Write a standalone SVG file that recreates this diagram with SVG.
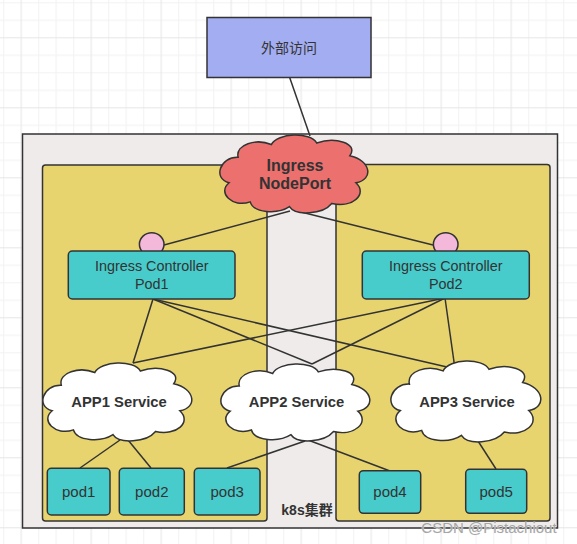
<svg xmlns="http://www.w3.org/2000/svg" xmlns:xlink="http://www.w3.org/1999/xlink" width="577" height="544" viewBox="0 0 577 544">
<defs>
<pattern id="grid" patternUnits="userSpaceOnUse" x="3.2" y="2.3" width="70" height="70">
<rect width="70" height="70" fill="#ffffff"/>
<g stroke="#f2f2f2" stroke-width="1">
<line x1="0.5" y1="0" x2="0.5" y2="70"/><line x1="35.5" y1="0" x2="35.5" y2="70"/><line x1="53" y1="0" x2="53" y2="70"/>
<line x1="0" y1="0.5" x2="70" y2="0.5"/><line x1="0" y1="18" x2="70" y2="18"/><line x1="0" y1="53" x2="70" y2="53"/>
</g>
<g stroke="#e6e6e6" stroke-width="1">
<line x1="18" y1="0" x2="18" y2="70"/>
<line x1="0" y1="35.5" x2="70" y2="35.5"/>
</g>
</pattern>
<path id="cloudShape" vector-effect="non-scaling-stroke" d="M8,60 C-3,55 2,27 14,28 C12,12 26,4 36,12 C40,-3 62,-4 66,10 C78,2 94,10 88,26 C102,32 104,56 92,60 C100,74 90,92 76,86 C70,100 52,102 48,90 C40,100 24,98 22,84 C10,92 0,72 8,60 Z"/>
<style>
.ln{stroke:#333333;stroke-width:1.5;fill:none;}
.cloud{stroke:#333333;stroke-width:1.5;}
.box{stroke:#333333;stroke-width:1.5;}
.t{font-family:"Liberation Sans","Noto Sans CJK SC",sans-serif;fill:#333333;text-anchor:middle;}
.b{font-weight:bold;}
</style>
</defs>
<rect width="577" height="544" fill="url(#grid)"/>

<g id="cluster">
<rect x="22.5" y="134" width="535" height="394" fill="#efebea" stroke="#333333" stroke-width="1.5"/>
<rect x="42.5" y="165" width="224.5" height="356" rx="3" fill="#e8d46e" class="box"/>
<rect x="336" y="164.5" width="214" height="356.5" rx="3" fill="#e8d46e" class="box"/>
<text class="t b" x="307" y="515" font-size="14">k8s集群</text>
</g>

<g id="connectors" class="ln">
<line x1="289.5" y1="77" x2="310" y2="136"/>
<line x1="290" y1="211" x2="164" y2="245"/>
<line x1="293" y1="210" x2="433" y2="245"/>
<line x1="153" y1="299" x2="133" y2="363"/>
<line x1="153" y1="299" x2="312" y2="364"/>
<line x1="153" y1="299" x2="447" y2="367"/>
<line x1="445" y1="298" x2="133" y2="363"/>
<line x1="445" y1="298" x2="312" y2="364"/>
<line x1="445" y1="298" x2="455" y2="369"/>
<line x1="120" y1="440" x2="80" y2="468"/>
<line x1="128" y1="440" x2="151" y2="468"/>
<line x1="305" y1="441" x2="227" y2="468"/>
<line x1="308" y1="440" x2="390" y2="471"/>
<line x1="478" y1="441" x2="496" y2="469"/>
</g>

<g id="external">
<rect x="207" y="17.5" width="164" height="60" fill="#a3adf1" class="box"/>
<text class="t" x="289" y="53" font-size="14">外部访问</text>
</g>

<g id="nodeport">
<use xlink:href="#cloudShape" href="#cloudShape" class="cloud" fill="#ec706e" transform="translate(217 135) scale(1.51 0.796)"/>
<text class="t b" x="295" y="171" font-size="16">Ingress</text>
<text class="t b" x="295" y="189" font-size="16">NodePort</text>
</g>

<g id="circle1"><ellipse cx="151.7" cy="244.3" rx="12.3" ry="11.5" fill="#f4b8da" class="box"/></g>
<g id="circle2"><ellipse cx="445.7" cy="244.3" rx="12.3" ry="11.5" fill="#f4b8da" class="box"/></g>

<g id="ic1">
<rect x="68.3" y="251" width="166.7" height="48" rx="4" fill="#48cbcb" class="box"/>
<text class="t" x="151.7" y="271" font-size="14.4">Ingress Controller</text>
<text class="t" x="151.7" y="289" font-size="14.4">Pod1</text>
</g>
<g id="ic2">
<rect x="362.3" y="251" width="167" height="48" rx="4" fill="#48cbcb" class="box"/>
<text class="t" x="445.8" y="271" font-size="14.4">Ingress Controller</text>
<text class="t" x="445.8" y="289" font-size="14.4">Pod2</text>
</g>

<g id="app1">
<use xlink:href="#cloudShape" href="#cloudShape" class="cloud" fill="#ffffff" transform="translate(40 363) scale(1.52 0.796)"/>
<text class="t b" x="119" y="407" font-size="14.8">APP1 Service</text>
</g>
<g id="app2">
<use xlink:href="#cloudShape" href="#cloudShape" class="cloud" fill="#ffffff" transform="translate(218 364) scale(1.52 0.786)"/>
<text class="t b" x="296.5" y="407" font-size="14.8">APP2 Service</text>
</g>
<g id="app3">
<use xlink:href="#cloudShape" href="#cloudShape" class="cloud" fill="#ffffff" transform="translate(388 361) scale(1.53 0.826)"/>
<text class="t b" x="467" y="407" font-size="14.8">APP3 Service</text>
</g>

<g id="pod1"><rect x="47.3" y="468.3" width="62.7" height="46.7" rx="4" fill="#48cbcb" class="box"/><text class="t" x="78.7" y="497" font-size="15">pod1</text></g>
<g id="pod2"><rect x="119.3" y="468.3" width="65" height="46.7" rx="4" fill="#48cbcb" class="box"/><text class="t" x="151.8" y="497" font-size="15">pod2</text></g>
<g id="pod3"><rect x="194.3" y="468.3" width="65.7" height="46.7" rx="4" fill="#48cbcb" class="box"/><text class="t" x="227.2" y="497" font-size="15">pod3</text></g>
<g id="pod4"><rect x="359.3" y="470.7" width="61.4" height="42.6" rx="4" fill="#48cbcb" class="box"/><text class="t" x="390" y="497" font-size="15">pod4</text></g>
<g id="pod5"><rect x="465.7" y="469.3" width="61" height="44" rx="4" fill="#48cbcb" class="box"/><text class="t" x="496.2" y="497" font-size="15">pod5</text></g>

<text x="489" y="533" font-family="Liberation Sans, sans-serif" font-size="15" text-anchor="middle" fill="#a6a6a6" stroke="#f4f4f4" stroke-width="0.6" paint-order="stroke">CSDN @Pistachiout</text>
</svg>
